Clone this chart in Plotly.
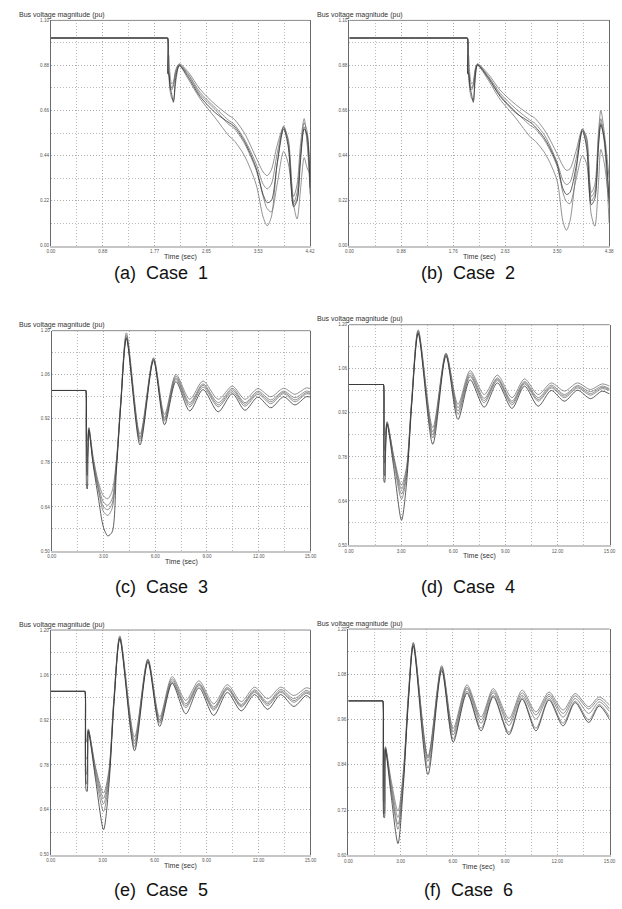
import plotly.graph_objects as go

W, H = 622, 909

# ---------------- data (time in s, voltage in pu) ----------------
# Case 1
ta = [0, 1.0, 1.97, 1.99, 2.0, 2.01, 2.03, 2.06, 2.09, 2.13, 2.19, 2.35, 2.54, 2.8, 3.04, 3.12, 3.3, 3.5,
      3.62, 3.69, 3.76, 3.86, 3.97, 4.05, 4.14, 4.2, 4.26, 4.32, 4.37, 4.42]
a1 = [1.014, 1.014, 1.014, 1.014, 0.84, 0.93, 0.84, 0.79, 0.80, 0.86, 0.888, 0.845, 0.765, 0.69, 0.635, 0.62,
      0.55, 0.43, 0.36, 0.342, 0.37, 0.49, 0.58, 0.50, 0.24, 0.30, 0.50, 0.62, 0.50, 0.30]
a2 = [1.014, 1.014, 1.014, 1.014, 0.84, 0.86, 0.80, 0.77, 0.79, 0.85, 0.885, 0.835, 0.75, 0.675, 0.61, 0.595,
      0.52, 0.40, 0.30, 0.277, 0.30, 0.45, 0.575, 0.52, 0.21, 0.26, 0.45, 0.60, 0.56, 0.36]
a3 = [1.014, 1.014, 1.014, 1.014, 0.84, 0.85, 0.79, 0.76, 0.78, 0.84, 0.882, 0.83, 0.74, 0.665, 0.59, 0.575,
      0.50, 0.37, 0.24, 0.18, 0.165, 0.30, 0.46, 0.40, 0.20, 0.13, 0.28, 0.43, 0.38, 0.35]
a4 = [1.014, 1.014, 1.014, 1.014, 0.84, 0.83, 0.76, 0.72, 0.71, 0.80, 0.878, 0.81, 0.72, 0.625, 0.535, 0.515,
      0.44, 0.30, 0.14, 0.097, 0.14, 0.40, 0.585, 0.50, 0.20, 0.23, 0.45, 0.58, 0.52, 0.25]
a5 = [1.014, 1.014, 1.014, 1.014, 0.84, 0.84, 0.78, 0.74, 0.70, 0.82, 0.88, 0.82, 0.73, 0.65, 0.60, 0.585,
      0.51, 0.38, 0.25, 0.21, 0.22, 0.40, 0.57, 0.48, 0.19, 0.22, 0.42, 0.57, 0.54, 0.28]

# Case 2
tb = [0, 1.0, 1.97, 1.99, 2.0, 2.01, 2.03, 2.06, 2.09, 2.12, 2.16, 2.35, 2.54, 2.8, 3.06, 3.12, 3.3, 3.5,
      3.6, 3.66, 3.72, 3.82, 3.93, 4.0, 4.08, 4.14, 4.2, 4.24, 4.3, 4.38]
b1 = [1.014, 1.014, 1.014, 1.014, 0.84, 0.93, 0.84, 0.79, 0.80, 0.86, 0.888, 0.835, 0.76, 0.69, 0.635, 0.625,
      0.56, 0.45, 0.39, 0.368, 0.375, 0.46, 0.57, 0.52, 0.26, 0.30, 0.55, 0.66, 0.55, 0.33]
b2 = [1.014, 1.014, 1.014, 1.014, 0.84, 0.86, 0.80, 0.77, 0.79, 0.85, 0.886, 0.825, 0.745, 0.67, 0.61, 0.60,
      0.535, 0.41, 0.32, 0.298, 0.31, 0.42, 0.565, 0.53, 0.24, 0.27, 0.52, 0.62, 0.52, 0.21]
b3 = [1.014, 1.014, 1.014, 1.014, 0.84, 0.85, 0.79, 0.76, 0.78, 0.84, 0.884, 0.82, 0.735, 0.655, 0.585, 0.575,
      0.51, 0.39, 0.26, 0.215, 0.205, 0.32, 0.44, 0.40, 0.15, 0.095, 0.30, 0.47, 0.40, 0.20]
b4 = [1.014, 1.014, 1.014, 1.014, 0.84, 0.83, 0.76, 0.72, 0.71, 0.80, 0.88, 0.805, 0.715, 0.625, 0.528, 0.515,
      0.45, 0.32, 0.12, 0.075, 0.12, 0.35, 0.57, 0.50, 0.22, 0.25, 0.50, 0.60, 0.50, 0.11]
b5 = [1.014, 1.014, 1.014, 1.014, 0.84, 0.84, 0.78, 0.74, 0.70, 0.82, 0.882, 0.815, 0.73, 0.65, 0.60, 0.585,
      0.52, 0.40, 0.28, 0.25, 0.26, 0.38, 0.56, 0.48, 0.20, 0.23, 0.48, 0.59, 0.52, 0.23]

# Case 3
tc = [0, 1.0, 1.96, 1.98, 2.0, 2.03, 2.06, 2.1, 2.155, 2.4, 2.7, 3.0, 3.25, 3.5, 3.75, 4.0, 4.33, 5.12, 5.9,
      6.54, 7.2, 8.0, 8.77, 9.65, 10.47, 11.2, 11.95, 12.7, 13.44, 14.1, 14.75, 15.0]
c1 = [1.01, 1.01, 1.01, 1.01, 0.92, 0.88, 0.85, 0.86, 0.892, 0.80, 0.72, 0.675, 0.666, 0.69, 0.79, 0.975, 1.193,
      0.871, 1.114, 0.934, 1.061, 0.982, 1.040, 0.982, 1.024, 0.982, 1.016, 0.990, 1.017, 0.998, 1.018, 1.016]
c2 = [1.01, 1.01, 1.01, 1.01, 0.90, 0.83, 0.80, 0.84, 0.89, 0.79, 0.71, 0.655, 0.645, 0.665, 0.78, 0.97, 1.185,
      0.862, 1.112, 0.924, 1.055, 0.971, 1.031, 0.971, 1.017, 0.971, 1.008, 0.980, 1.008, 0.987, 1.008, 1.005]
c3 = [1.01, 1.01, 1.01, 1.01, 0.88, 0.80, 0.78, 0.83, 0.888, 0.785, 0.70, 0.64, 0.631, 0.65, 0.775, 0.968, 1.180,
      0.856, 1.110, 0.918, 1.050, 0.965, 1.027, 0.964, 1.012, 0.966, 1.003, 0.974, 1.004, 0.980, 1.003, 1.001]
c4 = [1.01, 1.01, 1.01, 1.01, 0.85, 0.75, 0.74, 0.82, 0.886, 0.78, 0.695, 0.625, 0.613, 0.635, 0.77, 0.965, 1.177,
      0.848, 1.108, 0.913, 1.045, 0.958, 1.021, 0.958, 1.006, 0.960, 0.998, 0.968, 1.000, 0.974, 0.999, 0.998]
c5 = [1.01, 1.01, 1.01, 1.01, 0.80, 0.70, 0.697, 0.80, 0.884, 0.775, 0.67, 0.575, 0.548, 0.56, 0.755, 0.96, 1.175,
      0.837, 1.105, 0.901, 1.038, 0.945, 1.013, 0.942, 1.000, 0.947, 0.989, 0.955, 0.990, 0.964, 0.990, 0.989]

# Case 4
td = [0, 1.0, 1.96, 1.98, 2.0, 2.02, 2.05, 2.1, 2.19, 2.6, 3.02, 3.3, 3.6, 3.98, 4.82, 5.58, 6.27, 6.97, 7.78,
      8.54, 9.38, 10.1, 10.89, 11.64, 12.4, 13.15, 13.9, 14.57, 15.0]
d1 = [1.01, 1.01, 1.01, 1.01, 0.93, 0.88, 0.85, 0.86, 0.892, 0.775, 0.69, 0.745, 0.96, 1.184, 0.873, 1.11, 0.947,
      1.054, 0.978, 1.040, 0.968, 1.028, 0.978, 1.015, 0.989, 1.015, 0.994, 1.012, 1.005]
d2 = [1.01, 1.01, 1.01, 1.01, 0.90, 0.83, 0.80, 0.84, 0.89, 0.77, 0.677, 0.735, 0.955, 1.18, 0.86, 1.108, 0.936,
      1.047, 0.966, 1.031, 0.957, 1.020, 0.968, 1.008, 0.978, 1.007, 0.987, 1.005, 0.997]
d3 = [1.01, 1.01, 1.01, 1.01, 0.86, 0.78, 0.76, 0.82, 0.888, 0.765, 0.662, 0.725, 0.95, 1.178, 0.85, 1.106, 0.926,
      1.040, 0.959, 1.027, 0.951, 1.016, 0.962, 1.003, 0.973, 1.003, 0.981, 1.001, 0.994]
d4 = [1.01, 1.01, 1.01, 1.01, 0.82, 0.74, 0.72, 0.81, 0.886, 0.755, 0.646, 0.715, 0.945, 1.175, 0.84, 1.104, 0.915,
      1.035, 0.952, 1.023, 0.945, 1.012, 0.957, 0.999, 0.968, 0.999, 0.976, 0.997, 0.991]
d5 = [1.01, 1.01, 1.01, 1.01, 0.78, 0.70, 0.699, 0.79, 0.884, 0.735, 0.579, 0.69, 0.94, 1.172, 0.82, 1.10, 0.899,
      1.025, 0.938, 1.015, 0.934, 1.005, 0.941, 0.991, 0.957, 0.992, 0.965, 0.989, 0.980]

# Case 5
te = [0, 1.0, 1.96, 1.98, 2.0, 2.05, 2.1, 2.17, 2.6, 3.05, 3.35, 3.65, 3.99, 4.84, 5.61, 6.29, 7.01, 7.80, 8.56,
      9.41, 10.2, 11.0, 11.77, 12.53, 13.28, 14.04, 14.75, 15.0]
e1 = [1.009, 1.009, 1.009, 1.009, 0.92, 0.86, 0.85, 0.892, 0.77, 0.692, 0.76, 0.99, 1.182, 0.867, 1.11, 0.929,
      1.055, 0.981, 1.042, 0.970, 1.030, 0.977, 1.022, 0.986, 1.022, 0.996, 1.020, 1.017]
e2 = [1.009, 1.009, 1.009, 1.009, 0.88, 0.80, 0.80, 0.89, 0.765, 0.676, 0.75, 0.985, 1.178, 0.855, 1.108, 0.92,
      1.048, 0.970, 1.034, 0.960, 1.022, 0.968, 1.014, 0.975, 1.015, 0.986, 1.012, 1.006]
e3 = [1.009, 1.009, 1.009, 1.009, 0.84, 0.75, 0.76, 0.888, 0.755, 0.659, 0.74, 0.98, 1.176, 0.845, 1.106, 0.915,
      1.042, 0.964, 1.030, 0.955, 1.018, 0.964, 1.010, 0.970, 1.010, 0.980, 1.007, 1.002]
e4 = [1.009, 1.009, 1.009, 1.009, 0.80, 0.72, 0.73, 0.886, 0.745, 0.635, 0.73, 0.975, 1.175, 0.835, 1.104, 0.91,
      1.037, 0.958, 1.027, 0.950, 1.015, 0.960, 1.006, 0.965, 1.006, 0.975, 1.003, 0.998]
e5 = [1.009, 1.009, 1.009, 1.009, 0.76, 0.70, 0.697, 0.884, 0.73, 0.578, 0.71, 0.97, 1.172, 0.824, 1.10, 0.90,
      1.034, 0.939, 1.020, 0.934, 1.006, 0.948, 0.999, 0.953, 0.999, 0.962, 0.996, 0.986]

# Case 6
tf = [0, 1.0, 1.96, 1.98, 2.0, 2.04, 2.07, 2.13, 2.45, 2.85, 3.15, 3.45, 3.73, 4.57, 5.36, 6.02, 6.81, 7.62, 8.32,
      9.22, 9.98, 10.77, 11.52, 12.33, 13.02, 13.8, 14.4, 15.0]
f1 = [1.0095, 1.0095, 1.0095, 1.0095, 0.93, 0.86, 0.85, 0.888, 0.80, 0.717, 0.82, 1.03, 1.165, 0.862, 1.103, 0.937,
      1.052, 0.967, 1.042, 0.963, 1.038, 0.980, 1.033, 0.985, 1.029, 0.994, 1.020, 0.998]
f2 = [1.0095, 1.0095, 1.0095, 1.0095, 0.88, 0.78, 0.80, 0.886, 0.79, 0.70, 0.81, 1.025, 1.162, 0.858, 1.10, 0.928,
      1.046, 0.959, 1.036, 0.954, 1.031, 0.972, 1.027, 0.976, 1.023, 0.988, 1.014, 0.988]
f3 = [1.0095, 1.0095, 1.0095, 1.0095, 0.82, 0.74, 0.76, 0.884, 0.78, 0.682, 0.80, 1.02, 1.16, 0.849, 1.097, 0.919,
      1.042, 0.950, 1.031, 0.944, 1.024, 0.961, 1.022, 0.966, 1.016, 0.976, 1.007, 0.981]
f4 = [1.0095, 1.0095, 1.0095, 1.0095, 0.78, 0.71, 0.72, 0.882, 0.775, 0.669, 0.795, 1.015, 1.158, 0.831, 1.095, 0.908,
      1.035, 0.937, 1.024, 0.926, 1.018, 0.937, 1.016, 0.950, 1.009, 0.959, 1.000, 0.967]
f5 = [1.0095, 1.0095, 1.0095, 1.0095, 0.74, 0.70, 0.70, 0.88, 0.76, 0.631, 0.78, 1.01, 1.155, 0.814, 1.09, 0.90,
      1.030, 0.930, 1.020, 0.920, 1.014, 0.930, 1.012, 0.943, 1.005, 0.952, 0.996, 0.960]

# axis tick labels
xt_a = ["0.00", "0.88", "1.77", "2.65", "3.53", "4.42"]
xt_b = ["0.00", "0.88", "1.76", "2.63", "3.50", "4.38"]
xt_long = ["0.00", "3.00", "6.00", "9.00", "12.00", "15.00"]
yt_ab = ["0.00", "0.22", "0.44", "0.66", "0.88", "1.10"]
yt_cde = ["0.50", "0.64", "0.78", "0.92", "1.06", "1.20"]
yt_f = ["0.60", "0.72", "0.84", "0.96", "1.08", "1.20"]
captions = ["(a)\u00a0 Case\u00a0 1", "(b)\u00a0 Case\u00a0 2", "(c)\u00a0 Case\u00a0 3",
            "(d)\u00a0 Case\u00a0 4", "(e)\u00a0 Case\u00a0 5", "(f)\u00a0 Case\u00a0 6"]
y_title = "Bus voltage magnitude (pu)"
x_title = "Time (sec)"

# ---------------- layout of panels (pixel boxes) ----------------
panels = [
    dict(t=ta, ys=[a1, a2, a3, a4, a5], px=(47.7, 311.0), py=(18.5, 245.0), xmax=4.42, xtt=xt_a,
         yr=(0.0, 1.10), ytt=yt_ab, cap=(160, 272), tx=13),
    dict(t=tb, ys=[b1, b2, b3, b4, b5], px=(351.0, 615.0), py=(18.5, 245.0), xmax=4.38, xtt=xt_b,
         yr=(0.0, 1.10), ytt=yt_ab, cap=(472, 272), tx=316),
    dict(t=tc, ys=[c1, c2, c3, c4, c5], px=(48.5, 311.5), py=(330.5, 552.0), xmax=15.0, xtt=xt_long,
         yr=(0.50, 1.20), ytt=yt_cde, cap=(160, 588), tx=13),
    dict(t=td, ys=[d1, d2, d3, d4, d5], px=(350.7, 615.5), py=(324.5, 546.0), xmax=15.0, xtt=xt_long,
         yr=(0.50, 1.20), ytt=yt_cde, cap=(472, 588), tx=316),
    dict(t=te, ys=[e1, e2, e3, e4, e5], px=(47.5, 311.5), py=(631.5, 857.5), xmax=15.0, xtt=xt_long,
         yr=(0.50, 1.20), ytt=yt_cde, cap=(160, 893), tx=13),
    dict(t=tf, ys=[f1, f2, f3, f4, f5], px=(350.0, 615.5), py=(630.5, 858.0), xmax=15.0, xtt=xt_long,
         yr=(0.60, 1.20), ytt=yt_f, cap=(472, 893), tx=316),
]

line_cols = ["#6e6e6e", "#6e6e6e", "#6e6e6e", "#6e6e6e", "#2a2a2a"]
tick_font = dict(family="Liberation Sans, Arial", size=4.6, color="#555555")
grid_col = "#a8a8a8"
grid_dash = "1px,2px"

fig = go.Figure()
layout = dict(width=W, height=H, margin=dict(l=0, r=0, t=0, b=0),
              paper_bgcolor="white", plot_bgcolor="white", showlegend=False,
              annotations=[], shapes=[])

for i, p in enumerate(panels):
    n = i + 1
    sfx = "" if n == 1 else str(n)
    xa, ya = "x" + sfx, "y" + sfx
    for j, ys in enumerate(p["ys"]):
        fig.add_trace(go.Scatter(x=p["t"], y=ys, mode="lines", xaxis=xa, yaxis=ya,
                                 line=dict(color=line_cols[j], width=0.75, shape="spline", smoothing=0.8),
                                 hoverinfo="skip"))
    x0, x1 = p["px"]
    y0, y1 = p["py"]
    xmax = p["xmax"]
    ylo, yhi = p["yr"]
    xstep = xmax / 5.0
    ystep = (yhi - ylo) / 5.0
    layout["xaxis" + sfx] = dict(
        domain=[x0 / W, x1 / W], range=[0, xmax], anchor=ya,
        tickmode="array", tickvals=[k * xstep for k in range(6)], ticktext=p["xtt"],
        tickfont=tick_font, ticks="", ticklabeloverflow="allow",
        showgrid=True, gridcolor=grid_col, griddash=grid_dash, gridwidth=0.8,
        minor=dict(tick0=0, dtick=xstep / 2.0, showgrid=True, gridcolor=grid_col, griddash=grid_dash, gridwidth=0.8),
        zeroline=False, showline=True, linecolor="#c6c6c6", linewidth=2, mirror=False,
        fixedrange=True)
    layout["yaxis" + sfx] = dict(
        domain=[1 - y1 / H, 1 - y0 / H], range=[ylo, yhi], anchor=xa,
        tickmode="array", tickvals=[ylo + k * ystep for k in range(6)], ticktext=p["ytt"],
        tickfont=tick_font, ticks="", ticklabeloverflow="allow",
        showgrid=True, gridcolor=grid_col, griddash=grid_dash, gridwidth=0.8,
        minor=dict(tick0=ylo, dtick=ystep / 2.0, showgrid=True, gridcolor=grid_col, griddash=grid_dash, gridwidth=0.8),
        zeroline=False, showline=True, linecolor="#6a6a6a", linewidth=1, mirror=True,
        fixedrange=True)
    # top border of the frame
    layout["shapes"].append(dict(type="line", xref=xa + " domain", yref=ya + " domain",
                                 x0=0, x1=1, y0=1, y1=1, line=dict(color="#8a8a8a", width=1)))
    # y-axis title (top-left)
    layout["annotations"].append(dict(text=y_title, xref="paper", yref="paper", x=p["tx"] / W,
                                      y=1 - (y0 - 5.5) / H, xanchor="left", yanchor="middle", showarrow=False,
                                      font=dict(family="Liberation Sans, Arial", size=7, color="#333333")))
    # x-axis title
    layout["annotations"].append(dict(text=x_title, xref="paper", yref="paper", x=((x0 + x1) / 2) / W,
                                      y=1 - (y1 + 11.5) / H, xanchor="center", yanchor="middle", showarrow=False,
                                      font=dict(family="Liberation Sans, Arial", size=7, color="#333333")))
    # caption
    cx, cy = p["cap"]
    layout["annotations"].append(dict(text=captions[i], xref="paper", yref="paper", x=cx / W, y=1 - cy / H,
                                      xanchor="center", yanchor="middle", showarrow=False,
                                      font=dict(family="Liberation Sans, Arial", size=18, color="#111111")))

fig.update_layout(**layout)
fig.write_html("out.html", config={"displayModeBar": False, "staticPlot": True},
               post_script="document.body.style.margin='0px';document.body.style.overflow='hidden';")
